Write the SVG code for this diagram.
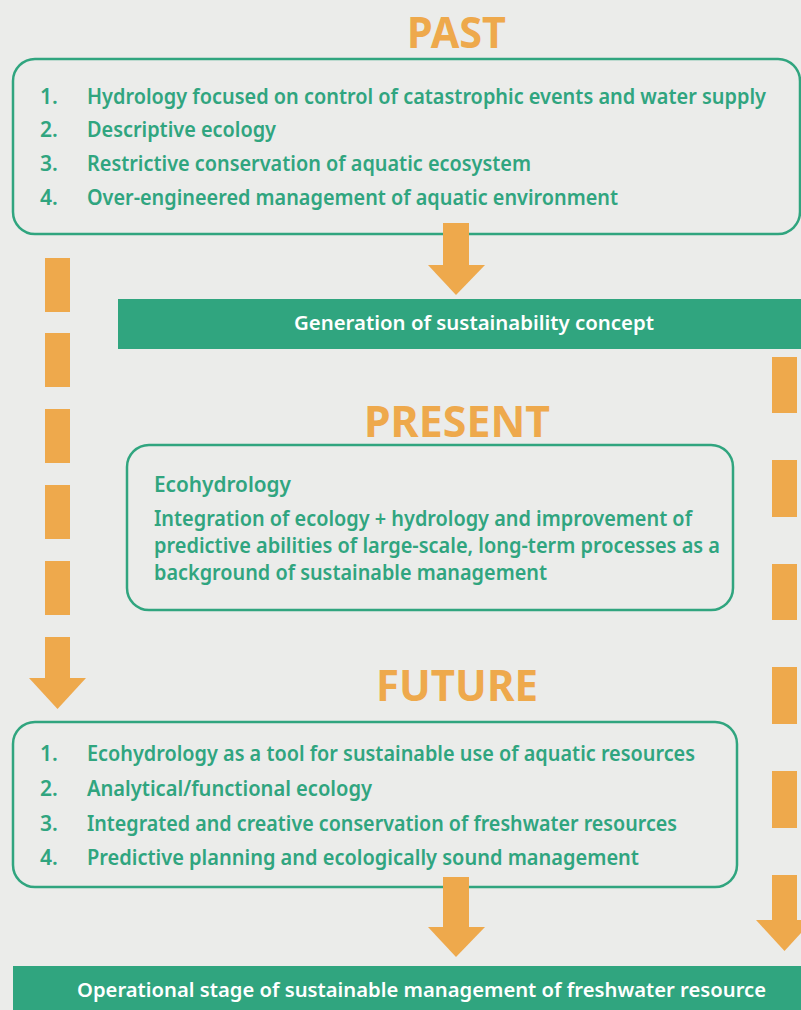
<svg xmlns="http://www.w3.org/2000/svg" width="801" height="1010" viewBox="0 0 801 1010">
<style>
.title{font-family:"Noto Sans","Liberation Sans",sans-serif;font-weight:700;font-size:43px;fill:#EEA94C}
.item{font-family:"Noto Sans","Liberation Sans",sans-serif;font-weight:600;font-size:21px;fill:#30A57F}
.bar{font-family:"Noto Sans","Liberation Sans",sans-serif;font-weight:600;font-size:20px;fill:#ffffff}
.box{fill:none;stroke:#30A57F;stroke-width:2.5}
.or{fill:#EEA94C}
</style>
<rect width="801" height="1010" fill="#EBECEA"/>

<g id="past">
<text class="title" x="407" y="48" textLength="99" lengthAdjust="spacingAndGlyphs">PAST</text>
<rect class="box" x="13" y="59" width="787" height="175" rx="22"/>
<text class="item" x="40" y="104">1.</text>
<text class="item" x="87" y="104" textLength="679" lengthAdjust="spacingAndGlyphs">Hydrology focused on control of catastrophic events and water supply</text>
<text class="item" x="40" y="137">2.</text>
<text class="item" x="87" y="137" textLength="189" lengthAdjust="spacingAndGlyphs">Descriptive ecology</text>
<text class="item" x="40" y="171">3.</text>
<text class="item" x="87" y="171" textLength="444" lengthAdjust="spacingAndGlyphs">Restrictive conservation of aquatic ecosystem</text>
<text class="item" x="40" y="205">4.</text>
<text class="item" x="87" y="205" textLength="531" lengthAdjust="spacingAndGlyphs">Over-engineered management of aquatic environment</text>
</g>

<g id="sustainability">
<rect x="118" y="299" width="683" height="50" fill="#30A57F"/>
<text class="bar" x="294" y="330" textLength="360" lengthAdjust="spacingAndGlyphs">Generation of sustainability concept</text>
</g>

<g id="present">
<text class="title" x="364" y="437" textLength="186" lengthAdjust="spacingAndGlyphs">PRESENT</text>
<rect class="box" x="127" y="445" width="606" height="165" rx="22"/>
<text class="item" x="154" y="492" textLength="137" lengthAdjust="spacingAndGlyphs">Ecohydrology</text>
<text class="item" x="154" y="526" textLength="538" lengthAdjust="spacingAndGlyphs">Integration of ecology + hydrology and improvement of</text>
<text class="item" x="154" y="553" textLength="566" lengthAdjust="spacingAndGlyphs">predictive abilities of large-scale, long-term processes as a</text>
<text class="item" x="154" y="580" textLength="393" lengthAdjust="spacingAndGlyphs">background of sustainable management</text>
</g>

<g id="future">
<text class="title" x="376" y="701" textLength="162" lengthAdjust="spacingAndGlyphs">FUTURE</text>
<rect class="box" x="13" y="722" width="724" height="165" rx="22"/>
<text class="item" x="40" y="761">1.</text>
<text class="item" x="87" y="761" textLength="608" lengthAdjust="spacingAndGlyphs">Ecohydrology as a tool for sustainable use of aquatic resources</text>
<text class="item" x="40" y="796">2.</text>
<text class="item" x="87" y="796" textLength="285" lengthAdjust="spacingAndGlyphs">Analytical/functional ecology</text>
<text class="item" x="40" y="831">3.</text>
<text class="item" x="87" y="831" textLength="590" lengthAdjust="spacingAndGlyphs">Integrated and creative conservation of freshwater resources</text>
<text class="item" x="40" y="865">4.</text>
<text class="item" x="87" y="865" textLength="552" lengthAdjust="spacingAndGlyphs">Predictive planning and ecologically sound management</text>
</g>

<g id="operational">
<rect x="13" y="966" width="788" height="44" fill="#30A57F"/>
<text class="bar" x="77" y="997" textLength="689" lengthAdjust="spacingAndGlyphs">Operational stage of sustainable management of freshwater resource</text>
</g>

<g id="connectors">
<rect class="or" x="443" y="223" width="26" height="43"/>
<polygon class="or" points="428,265 485,265 456,295"/>
<rect class="or" x="45" y="258" width="25" height="54"/>
<rect class="or" x="45" y="333" width="25" height="54"/>
<rect class="or" x="45" y="409" width="25" height="54"/>
<rect class="or" x="45" y="485" width="25" height="54"/>
<rect class="or" x="45" y="561" width="25" height="54"/>
<rect class="or" x="45" y="637" width="25" height="42"/>
<polygon class="or" points="29,678 86,678 57.5,709"/>
<rect class="or" x="772" y="357" width="25" height="56"/>
<rect class="or" x="772" y="460" width="25" height="57"/>
<rect class="or" x="772" y="564" width="25" height="56"/>
<rect class="or" x="772" y="667" width="25" height="57"/>
<rect class="or" x="772" y="771" width="25" height="57"/>
<rect class="or" x="772" y="875" width="25" height="46"/>
<polygon class="or" points="756,920 813,920 784.5,951"/>
<rect class="or" x="443" y="877" width="26" height="51"/>
<polygon class="or" points="428,927 485,927 456,957"/>
</g>
</svg>
